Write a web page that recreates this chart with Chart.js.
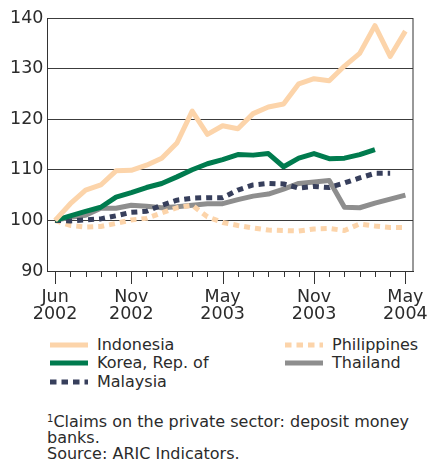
<!DOCTYPE html>
<html>
<head>
<meta charset="utf-8">
<script src="https://cdn.jsdelivr.net/npm/chart.js@4/dist/chart.umd.min.js"></script>
<style>
    body { margin: 0; background: #fff; font-family: "DejaVu Sans", Verdana, sans-serif; color: #2b2b2b; }
    #wrap { position: relative; width: 430px; height: 465px; overflow: hidden; }
    #chart { position: absolute; left: 0; top: 0; }
    .leg { position: absolute; height: 18px; line-height: 18px; font-size: 16px; white-space: nowrap; }
    .leg svg { position: absolute; left: 0; top: 6px; }
    .leg span { position: absolute; left: 47px; top: 0; }
    #note { position: absolute; left: 47px; top: 414px; font-size: 16px; line-height: 16px; white-space: nowrap; }
    #note sup { font-size: 10px; vertical-align: 5px; line-height: 0; }
</style>
</head>
<body>
<div id="wrap">
    <canvas id="chart" width="430" height="325"></canvas>
    <div id="legend"></div>
    <div id="note"><sup>1</sup>Claims on the private sector: deposit money<br>banks.<br>Source: ARIC Indicators.</div>
</div>
<script>
// Monthly index, June 2002 = 100
const months = [
    'Jun 2002', 'Jul 2002', 'Aug 2002', 'Sep 2002', 'Oct 2002', 'Nov 2002',
    'Dec 2002', 'Jan 2003', 'Feb 2003', 'Mar 2003', 'Apr 2003', 'May 2003',
    'Jun 2003', 'Jul 2003', 'Aug 2003', 'Sep 2003', 'Oct 2003', 'Nov 2003',
    'Dec 2003', 'Jan 2004', 'Feb 2004', 'Mar 2004', 'Apr 2004', 'May 2004'
];
const majorTicks = ['Jun 2002', 'Nov 2002', 'May 2003', 'Nov 2003', 'May 2004'];
const yTicks = [90, 100, 110, 120, 130, 140];

const indonesia = [100, 103.3, 106, 107, 109.8, 109.9, 110.9, 112.3, 115.3, 121.6, 117, 118.7,
    118.1, 121.1, 122.4, 123, 127, 128, 127.6, 130.5, 133, 138.5, 132.4, 137.4];
const korea = [100, 100.9, 101.8, 102.6, 104.6, 105.5, 106.5, 107.3, 108.6, 110, 111.2, 112,
    113, 112.9, 113.2, 110.6, 112.3, 113.2, 112.2, 112.3, 113, 114, null, null];
const malaysia = [100, 99.9, 100.1, 100.3, 100.9, 101.6, 101.8, 103, 104, 104.4, 104.5, 104.5,
    106, 107, 107.3, 107.2, 106.4, 106.7, 106.5, 107.4, 108.4, 109.3, 109.3, null];
const philippines = [100, 99, 98.7, 98.8, 99.4, 100.1, 100.4, 101.5, 102.5, 103, 100.7, 99.6,
    99, 98.5, 98.1, 98, 97.9, 98.3, 98.4, 98, 99.3, 98.9, 98.6, 98.6];
const thailand = [100, 100.6, 101, 102.4, 102.4, 103, 102.8, 102.5, 102.7, 103, 103.3, 103.3,
    104.1, 104.8, 105.2, 106.2, 107.3, 107.6, 107.9, 102.6, 102.5, 103.4, 104.2, 105];

const series = [
    { label: 'Indonesia', data: indonesia, color: '#fcd4aa', dash: [], col: 0, row: 0 },
    { label: 'Korea, Rep. of', data: korea, color: '#007b4e', dash: [], col: 0, row: 1 },
    { label: 'Malaysia', data: malaysia, color: '#373f5c', dash: [6, 5], col: 0, row: 2 },
    { label: 'Philippines', data: philippines, color: '#fcd4aa', dash: [6, 5], col: 1, row: 0 },
    { label: 'Thailand', data: thailand, color: '#8e8e8e', dash: [], col: 1, row: 1 }
];

// frame on the right + monthly tick marks under the axis
const frameTicks = {
    id: 'frameTicks',
    beforeDatasetsDraw(chart) {
        const { ctx, chartArea, scales } = chart;
        ctx.save();
        ctx.strokeStyle = '#333';
        ctx.lineWidth = 1;
        ctx.beginPath();
        ctx.moveTo(chartArea.right, chartArea.top);
        ctx.lineTo(chartArea.right, chartArea.bottom);
        months.forEach((m, i) => {
            const px = Math.round(scales.x.getPixelForValue(i)) + 0.5;
            const len = majorTicks.includes(m) ? 13 : 6;
            ctx.moveTo(px, chartArea.bottom);
            ctx.lineTo(px, chartArea.bottom + len);
        });
        ctx.stroke();
        ctx.restore();
    }
};

const tickFont = { family: '"DejaVu Sans", Verdana, sans-serif', size: 17.5, lineHeight: 0.98 };

new Chart(document.getElementById('chart'), {
    type: 'line',
    data: {
        labels: months,
        datasets: series.map(s => ({
            label: s.label,
            data: s.data,
            borderColor: s.color,
            borderWidth: 5,
            borderDash: s.dash,
            borderCapStyle: 'butt',
            borderJoinStyle: 'round',
            pointRadius: 0,
            tension: 0,
            fill: false
        }))
    },
    options: {
        responsive: false,
        animation: false,
        devicePixelRatio: 1,
        layout: { padding: { top: 18, right: 17, left: 0, bottom: 0 } },
        plugins: { legend: { display: false }, tooltip: { enabled: false } },
        scales: {
            x: {
                offset: true,
                grid: { drawOnChartArea: false, drawTicks: false, offset: false },
                border: { display: true, color: '#333', width: 1 },
                afterFit(scale) {
                    scale.height = 54;
                    scale.paddingLeft = 0;
                    scale.paddingRight = 0;
                },
                ticks: {
                    autoSkip: false,
                    maxRotation: 0,
                    padding: 18,
                    color: '#2b2b2b',
                    font: tickFont,
                    callback: (v, i) => majorTicks.includes(months[i]) ? months[i].split(' ') : ''
                }
            },
            y: {
                min: yTicks[0],
                max: yTicks[yTicks.length - 1],
                afterBuildTicks(scale) { scale.ticks = yTicks.map(v => ({ value: v })); },
                afterFit(scale) { scale.width = 47.5; },
                grid: { color: '#3c3c3c', lineWidth: 1, drawTicks: false },
                border: { display: true, color: '#333', width: 1 },
                ticks: { padding: 4, color: '#2b2b2b', font: tickFont }
            }
        }
    },
    plugins: [frameTicks]
});

// legend: two columns, built from the series list
const legend = document.getElementById('legend');
const colX = [50, 285];
const rowY = [336, 354, 373];
legend.innerHTML = series.map(s => `
    <div class="leg" style="left:${colX[s.col]}px; top:${rowY[s.row]}px;">
        <svg width="38" height="6"><line x1="0" y1="3" x2="38" y2="3" stroke="${s.color}"
            stroke-width="5" stroke-dasharray="${s.dash.length ? '6.5 5' : 'none'}"/></svg>
        <span>${s.label}</span>
    </div>`).join('');
</script>
</body>
</html>
